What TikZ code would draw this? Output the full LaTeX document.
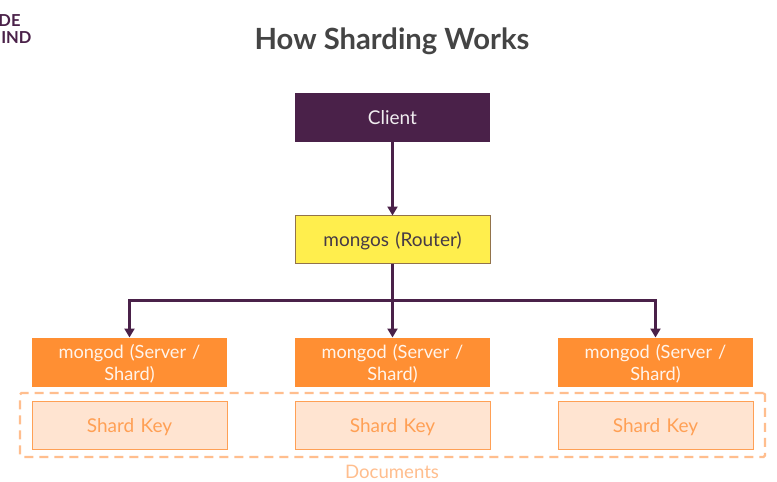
\documentclass[tikz,border=0pt]{standalone}
\usepackage{fontspec}
\setmainfont{Lato}
\usetikzlibrary{arrows.meta}
\definecolor{plum}{HTML}{4A2149}
\definecolor{yel}{HTML}{FFEE4D}
\definecolor{org}{HTML}{FF8F33}
\definecolor{pale}{HTML}{FFE4D1}
\definecolor{orgline}{HTML}{FFA055}
\definecolor{dashc}{HTML}{FFBE8E}
\definecolor{titlec}{HTML}{444444}
\newcommand{\dropstrut}[1]{\rule{0pt}{#1}}
\tikzset{
 x=1pt,y=-1pt,
 every node/.style={inner sep=0pt,outer sep=0pt,align=center},
 box/.style={minimum width=195pt,minimum height=48pt,font=\fontsize{19}{22}\selectfont,text width=190pt},
 clientbox/.style={box,fill=plum,text=white!92!plum,minimum height=49pt},
 routerbox/.style={box,fill=yel,draw=plum!60!yel,line width=1pt,text=plum!30!titlec},
 serverbox/.style={box,fill=org,text=white!90!org,minimum height=49pt,font=\fontsize{18.2}{22}\selectfont},
 keybox/.style={box,fill=pale,draw=orgline,line width=1pt,text=orgline},
 conn/.style={draw=plum,line width=3pt,-{Triangle[length=9pt,width=10pt]}},
 connplain/.style={draw=plum,line width=3pt},
}
\begin{document}
\begin{tikzpicture}
\useasboundingbox (0,0) rectangle (777,482);
\fill[white] (0,0) rectangle (777,482);
\node[font=\fontsize{29.2}{32}\selectfont\bfseries,text=titlec] (title) at (392,41) {How Sharding Works};
\node[font=\fontsize{16.5}{15}\selectfont\bfseries,text=plum,anchor=east] (logoa) at (20.5,21) {DE};
\node[font=\fontsize{16.5}{15}\selectfont\bfseries,text=plum,anchor=east] (logob) at (31.5,38) {IND};
\node[clientbox] (client) at (392.5,117.5) {Client};
\node[routerbox] (router) at (392.5,239.5) {\dropstrut{17pt}mongos (Router)};
\node[serverbox] (s1) at (129.5,362) {\dropstrut{18pt}mongod (Server /\\Shard)};
\node[serverbox] (s2) at (392.5,362) {\dropstrut{18pt}mongod (Server /\\Shard)};
\node[serverbox] (s3) at (655.5,362) {\dropstrut{18pt}mongod (Server /\\Shard)};
\node[keybox] (k1) at (129.5,425) {\dropstrut{19pt}Shard Key};
\node[keybox] (k2) at (392.5,425) {\dropstrut{19pt}Shard Key};
\node[keybox] (k3) at (655.5,425) {\dropstrut{19pt}Shard Key};
\node[draw=dashc,line width=2.2pt,dash pattern=on 9pt off 6pt,rounded corners=1.5pt,minimum width=745pt,minimum height=64pt] (docs) at (392.5,425) {};
\node[font=\fontsize{18.6}{21}\selectfont,text=dashc] (doclabel) at (392,471.5) {Documents};
\coordinate (hub) at (392.5,300);
\draw[connplain] (router.south) -- (hub);
\draw[conn] (client.south) -- (router.north);
\draw[conn] (hub) -- (s2.north);
\draw[conn] (hub) -| (s1.north);
\draw[conn] (hub) -| (s3.north);
\end{tikzpicture}
\end{document}
